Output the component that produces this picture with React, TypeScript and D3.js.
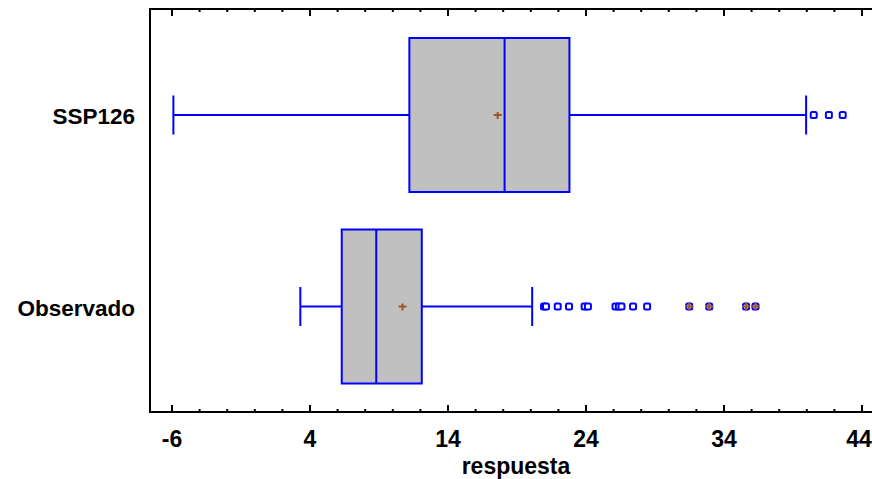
import React from "react";
import * as d3 from "d3";

const categories = ["SSP126", "Observado"];
const whiskerLow = [-5.9, 3.3];
const q1 = [11.2, 6.3];
const median = [18.1, 8.8];
const q3 = [22.8, 12.1];
const whiskerHigh = [39.95, 20.1];
const means = [17.6, 10.7];
const outliers = [
  [40.5, 41.6, 42.6],
  [20.96, 21.1, 21.95, 22.77, 23.9, 24.14, 26.14, 26.38, 26.57, 27.41, 28.43],
];
const farOutliers = [[], [31.48, 32.93, 35.6, 36.28]];
const xTicks = [-6, 4, 14, 24, 34, 44];
const xTitle = "respuesta";

const W = 872;
const H = 479;
const left = 150;
const right = 872;
const top = 9;
const bottom = 412;
const boxH = 154;

export default function App() {
  const x = d3.scaleLinear().domain([-6, 44]).range([172, 862]);
  const y = d3.scalePoint<string>().domain(categories).range([115, 306.5]);
  const minor = d3.range(-6, 46.01, 2).filter((v) => x(v) > left && x(v) < right);
  const blue = "#0000FF";
  const brown = "#A0561E";
  const font = "'Liberation Sans', Arial, sans-serif";

  return (
    <svg width={W} height={H} style={{ position: "absolute", left: 0, top: 0, background: "#fff" }}>
      <line x1={left} x2={right} y1={top} y2={top} stroke="#000" strokeWidth={2} />
      <line x1={left} x2={right} y1={bottom} y2={bottom} stroke="#000" strokeWidth={2} />
      <line x1={left} x2={left} y1={top - 1} y2={bottom + 1} stroke="#000" strokeWidth={2} />
      {minor.map((v) => {
        const major = xTicks.includes(v);
        const len = major ? 7 : 3;
        return (
          <g key={v}>
            <line x1={x(v)} x2={x(v)} y1={bottom} y2={bottom - len} stroke="#000" strokeWidth={2} />
            <line x1={x(v)} x2={x(v)} y1={top} y2={top + len} stroke="#000" strokeWidth={2} />
          </g>
        );
      })}
      {xTicks.map((v) => (
        <text
          key={v}
          x={Math.min(x(v), W - 13)}
          y={447}
          textAnchor="middle"
          fontFamily={font}
          fontWeight="bold"
          fontSize={23}
        >
          {v}
        </text>
      ))}
      <text x={516} y={474} textAnchor="middle" fontFamily={font} fontWeight="bold" fontSize={23}>
        {xTitle}
      </text>
      {categories.map((c, i) => {
        const cy = y(c)!;
        const y0 = cy - boxH / 2;
        const capH = 19.5;
        return (
          <g key={c}>
            <text x={135} y={cy + 9} textAnchor="end" fontFamily={font} fontWeight="bold" fontSize={22.5}>
              {c}
            </text>
            <line x1={x(whiskerLow[i])} x2={x(q1[i])} y1={cy} y2={cy} stroke={blue} strokeWidth={2} />
            <line x1={x(q3[i])} x2={x(whiskerHigh[i])} y1={cy} y2={cy} stroke={blue} strokeWidth={2} />
            <line x1={x(whiskerLow[i])} x2={x(whiskerLow[i])} y1={cy - capH} y2={cy + capH} stroke={blue} strokeWidth={2} />
            <line x1={x(whiskerHigh[i])} x2={x(whiskerHigh[i])} y1={cy - capH} y2={cy + capH} stroke={blue} strokeWidth={2} />
            <rect
              x={x(q1[i])}
              y={y0}
              width={x(q3[i]) - x(q1[i])}
              height={boxH}
              fill="#C0C0C0"
              stroke={blue}
              strokeWidth={2}
            />
            <line x1={x(median[i])} x2={x(median[i])} y1={y0} y2={y0 + boxH} stroke={blue} strokeWidth={2} />
            <path
              d={`M${x(means[i]) - 4},${cy} h8 M${x(means[i])},${cy - 3} v7`}
              stroke={brown}
              strokeWidth={2}
              fill="none"
            />
            {outliers[i].map((v, j) => (
              <rect key={j} x={x(v) - 3} y={cy - 3} width={6} height={6} rx={1.5} fill="#fff" stroke={blue} strokeWidth={2} />
            ))}
            {farOutliers[i].map((v, j) => (
              <g key={"f" + j}>
                <rect x={x(v) - 3} y={cy - 3} width={6} height={6} rx={1.5} fill="#fff" stroke={blue} strokeWidth={2} />
                <path d={`M${x(v) - 4},${cy} h8 M${x(v)},${cy - 4} v8`} stroke={brown} strokeWidth={2} fill="none" />
              </g>
            ))}
          </g>
        );
      })}
    </svg>
  );
}
